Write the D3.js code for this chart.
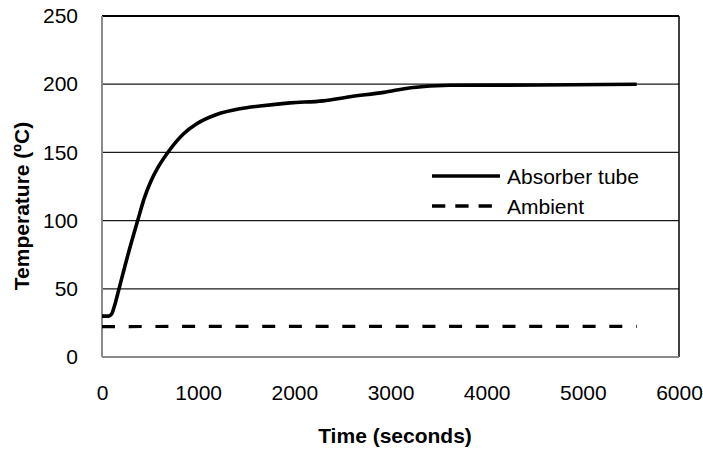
<!DOCTYPE html>
<html>
<head>
<meta charset="utf-8">
<script src="https://cdn.jsdelivr.net/npm/d3@7"></script>
<style>
	body { margin: 0; background: #fff; }
	text { font-family: "Liberation Sans", Arial, sans-serif; fill: #000; }
</style>
</head>
<body>
<div id="chart"></div>
<script>

// Values
var absorberTime = [0, 70, 100, 140, 177, 270, 371, 440, 506, 582, 690, 846, 985, 1192, 1435, 1643, 1955, 2300, 2579, 2930, 3210, 3619, 4554, 5560];
var absorberTemp = [30, 30, 31.5, 40, 50, 75, 100, 116.5, 128.5, 139, 150.5, 163.5, 171, 177.8, 182, 184, 186.3, 187.8, 190.8, 194, 197.4, 199.2, 199.4, 200];

var ambientTime = [0, 1000, 2000, 3000, 4000, 5000, 5560];
var ambientTemp = [22.3, 22.4, 22.4, 22.5, 22.5, 22.5, 22.5];

var xTicks = [0, 1000, 2000, 3000, 4000, 5000, 6000];
var yTicks = [0, 50, 100, 150, 200, 250];

var seriesNames = ["Absorber tube", "Ambient"];

// SVG drawing area
var margin = {top: 16, right: 24, bottom: 95, left: 102};

var width = 703 - margin.left - margin.right,
	height = 452 - margin.top - margin.bottom;

var svg = d3.select("#chart").append("svg")
		.attr("width", width + margin.left + margin.right)
		.attr("height", height + margin.top + margin.bottom)
	.append("g")
		.attr("transform", "translate(" + margin.left + "," + margin.top + ")");

// scales
var xScale = d3.scaleLinear()
	.domain([0, 6000])
	.range([0, width]);
var yScale = d3.scaleLinear()
	.domain([0, 250])
	.range([height, 0]);

// gridlines (inner ones)
svg.selectAll(".grid")
	.data(yTicks.filter(function(d) { return d > 0 && d < 250; }))
	.enter().append("line")
	.attr("class", "grid")
	.attr("x1", 0)
	.attr("x2", width)
	.attr("y1", function(d) { return yScale(d); })
	.attr("y2", function(d) { return yScale(d); })
	.style("stroke", "#1a1a1a")
	.style("stroke-width", 1.3);

// top and right border
svg.append("line")
	.attr("x1", 0).attr("x2", width)
	.attr("y1", yScale(250)).attr("y2", yScale(250))
	.style("stroke", "#000")
	.style("stroke-width", 2);
svg.append("line")
	.attr("x1", width).attr("x2", width)
	.attr("y1", 0).attr("y2", height)
	.style("stroke", "#000")
	.style("stroke-width", 1.5);

// axes
var xAxis = d3.axisBottom(xScale)
	.tickValues(xTicks)
	.tickSize(0)
	.tickPadding(28)
	.tickFormat(d3.format("d"));
var yAxis = d3.axisLeft(yScale)
	.tickValues(yTicks)
	.tickSize(0)
	.tickPadding(24)
	.tickFormat(d3.format("d"));

var xAxisGroup = svg.append("g")
	.attr("class", "x-axis axis")
	.attr("transform", "translate(0," + height + ")")
	.call(xAxis);
var yAxisGroup = svg.append("g")
	.attr("class", "y-axis axis")
	.call(yAxis);

svg.selectAll(".axis .domain").remove();
svg.selectAll(".axis text")
	.style("font-size", "21px")
	.style("font-family", "'Liberation Sans', Arial, sans-serif")
	.attr("fill", "#000");

// gray left and bottom axis lines
svg.append("line")
	.attr("x1", 0).attr("x2", 0)
	.attr("y1", 0).attr("y2", height)
	.style("stroke", "#8a8a8a")
	.style("stroke-width", 2);
svg.append("line")
	.attr("x1", 0).attr("x2", width)
	.attr("y1", height).attr("y2", height)
	.style("stroke", "#8a8a8a")
	.style("stroke-width", 2);

// lines
var absorberData = absorberTime.map(function(t, i) { return {t: t, v: absorberTemp[i]}; });
var ambientData = ambientTime.map(function(t, i) { return {t: t, v: ambientTemp[i]}; });

var line = d3.line()
	.x(function(d) { return xScale(d.t); })
	.y(function(d) { return yScale(d.v); })
	.curve(d3.curveMonotoneX);

svg.append("path")
	.datum(ambientData)
	.attr("class", "line")
	.attr("d", line)
	.style("fill", "none")
	.style("stroke", "#000")
	.style("stroke-width", 3.2)
	.style("stroke-dasharray", "13,13.7");

svg.append("path")
	.datum(absorberData)
	.attr("class", "line")
	.attr("d", line)
	.style("fill", "none")
	.style("stroke", "#000")
	.style("stroke-width", 3.6)
	.style("stroke-linejoin", "round");

// legend
var legend = svg.selectAll(".legend")
	.data(seriesNames)
	.enter().append("g")
	.attr("class", "legend")
	.attr("transform", function(d, i) { return "translate(" + (432 - margin.left) + "," + (176 - margin.top + i * 30) + ")"; });

legend.append("line")
	.attr("x1", 0).attr("x2", 68)
	.attr("y1", 0).attr("y2", 0)
	.style("stroke", "#000")
	.style("stroke-width", 3.4)
	.style("stroke-dasharray", function(d, i) { return i == 1 ? "13.3,10" : null; });

legend.append("text")
	.attr("x", 75)
	.attr("y", 7.5)
	.style("font-size", "21px")
	.text(function(d) { return d; });

// axis titles
svg.append("text")
	.attr("x", 395 - margin.left)
	.attr("y", 443 - margin.top)
	.attr("text-anchor", "middle")
	.style("font-size", "21px")
	.style("font-weight", "bold")
	.text("Time (seconds)");

svg.append("text")
	.attr("transform", "translate(" + (29 - margin.left) + "," + (206 - margin.top) + ") rotate(-90)")
	.attr("text-anchor", "middle")
	.style("font-size", "21px")
	.style("font-weight", "bold")
	.text("Temperature (ºC)");

</script>
</body>
</html>
